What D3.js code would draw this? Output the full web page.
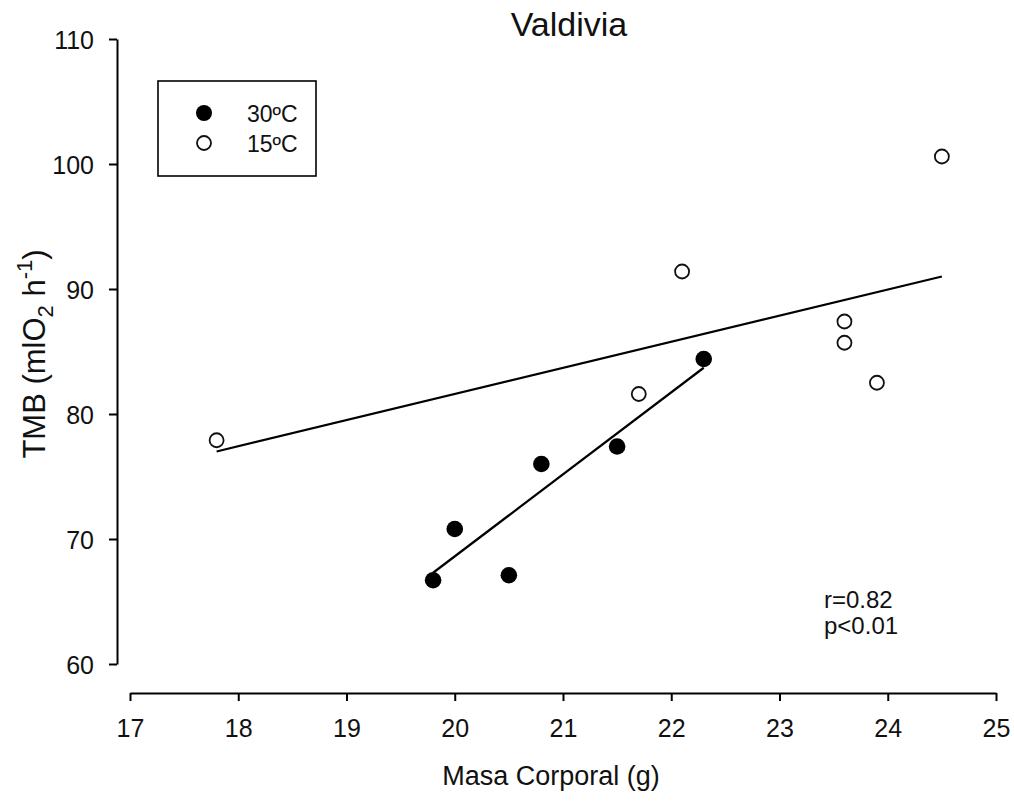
<!DOCTYPE html>
<html>
<head>
<meta charset="utf-8">
<script src="https://cdn.jsdelivr.net/npm/d3@7"></script>
<style>
  html, body { margin: 0; padding: 0; background: #fff; }
  svg { display: block; font-family: Arial, "Liberation Sans", sans-serif; }
</style>
</head>
<body>
<svg id="chart" width="1014" height="801"></svg>
<script>
// Body mass (g) and basal metabolic rate (ml O2 h-1), Valdivia
const mass30 = [19.8, 20.0, 20.5, 20.8, 21.5, 22.3];
const tmb30  = [66.7, 70.8, 67.1, 76.0, 77.4, 84.4];

const mass15 = [17.8, 21.7, 22.1, 23.6, 23.6, 23.9, 24.5];
const tmb15  = [77.9, 81.6, 91.4, 87.4, 85.7, 82.5, 100.6];

// Fitted regression lines (end points)
const fit30Mass = [19.8, 22.3];
const fit30Tmb  = [67.3, 83.7];
const fit15Mass = [17.8, 24.5];
const fit15Tmb  = [77.0, 91.0];

const xTicks = [17, 18, 19, 20, 21, 22, 23, 24, 25];
const yTicks = [60, 70, 80, 90, 100, 110];

const seriesLabels = ["30ºC", "15ºC"];
const statsText = ["r=0.82", "p<0.01"];

const FONT = "Arial, 'Liberation Sans', sans-serif";
const svg = d3.select("#chart");

const x = d3.scaleLinear().domain([17, 25]).range([130, 996]);
const y = d3.scaleLinear().domain([60, 110]).range([664, 39]);

const axisStroke = 2;

// X axis (offset below the plotting area)
const gx = svg.append("g")
  .attr("transform", "translate(0,693)")
  .call(d3.axisBottom(x).tickValues(xTicks).tickSize(8).tickSizeOuter(0).tickFormat(d3.format("d")));
gx.attr("font-family", FONT);
gx.select(".domain").attr("stroke", "#000").attr("stroke-width", axisStroke);
gx.selectAll(".tick line").attr("stroke", "#000").attr("stroke-width", axisStroke);
gx.selectAll(".tick text").attr("font-size", 25).attr("fill", "#111").attr("dy", 0).attr("y", 44);

// Y axis (offset left of the plotting area)
const gy = svg.append("g")
  .attr("transform", "translate(117,0)")
  .call(d3.axisLeft(y).tickValues(yTicks).tickSize(8).tickSizeOuter(0).tickFormat(d3.format("d")));
gy.attr("font-family", FONT);
gy.select(".domain").attr("stroke", "#000").attr("stroke-width", axisStroke);
gy.selectAll(".tick line").attr("stroke", "#000").attr("stroke-width", axisStroke);
gy.selectAll(".tick text").attr("font-size", 25).attr("fill", "#111").attr("x", -23).attr("dy", "0.36em");

// Titles
svg.append("text")
  .attr("x", 569).attr("y", 36)
  .attr("text-anchor", "middle")
  .attr("font-size", 34).attr("fill", "#111")
  .text("Valdivia");

svg.append("text")
  .attr("x", 551).attr("y", 785)
  .attr("text-anchor", "middle")
  .attr("font-size", 27).attr("fill", "#111")
  .text("Masa Corporal (g)");

const yTitle = svg.append("text")
  .attr("transform", "translate(45,354) rotate(-90)")
  .attr("text-anchor", "middle")
  .attr("font-size", 31).attr("fill", "#111");
yTitle.append("tspan").text("TMB (mlO");
yTitle.append("tspan").attr("font-size", 22).attr("dy", 8).text("2");
yTitle.append("tspan").attr("dy", -8).text(" h");
yTitle.append("tspan").attr("font-size", 22).attr("dy", -13).text("-1");
yTitle.append("tspan").attr("dy", 13).text(")");

// Regression lines
const line = d3.line().x(d => x(d[0])).y(d => y(d[1]));
svg.append("path")
  .datum(d3.zip(fit15Mass, fit15Tmb))
  .attr("d", line).attr("fill", "none").attr("stroke", "#000").attr("stroke-width", 2.2);
svg.append("path")
  .datum(d3.zip(fit30Mass, fit30Tmb))
  .attr("d", line).attr("fill", "none").attr("stroke", "#000").attr("stroke-width", 2.2);

// 15 ºC points: open circles
svg.append("g").selectAll("circle")
  .data(d3.zip(mass15, tmb15))
  .join("circle")
  .attr("cx", d => x(d[0])).attr("cy", d => y(d[1]))
  .attr("r", 7)
  .attr("fill", "#fff").attr("stroke", "#111").attr("stroke-width", 1.8);

// 30 ºC points: filled circles
svg.append("g").selectAll("circle")
  .data(d3.zip(mass30, tmb30))
  .join("circle")
  .attr("cx", d => x(d[0])).attr("cy", d => y(d[1]))
  .attr("r", 8.3)
  .attr("fill", "#000");

// Legend
const legend = svg.append("g");
legend.append("rect")
  .attr("x", 158).attr("y", 81).attr("width", 158).attr("height", 95)
  .attr("fill", "#fff").attr("stroke", "#000").attr("stroke-width", 1.6);
legend.append("circle").attr("cx", 204).attr("cy", 113).attr("r", 8).attr("fill", "#000");
legend.append("circle").attr("cx", 204).attr("cy", 143).attr("r", 7)
  .attr("fill", "#fff").attr("stroke", "#111").attr("stroke-width", 1.8);
legend.selectAll("text.lab")
  .data(seriesLabels)
  .join("text")
  .attr("class", "lab")
  .attr("x", 247).attr("y", (d, i) => 122 + i * 30)
  .attr("font-size", 23).attr("fill", "#111")
  .text(d => d);

// Correlation statistics
svg.selectAll("text.stat")
  .data(statsText)
  .join("text")
  .attr("class", "stat")
  .attr("x", 824).attr("y", (d, i) => 608 + i * 26)
  .attr("font-size", 24).attr("fill", "#111")
  .text(d => d);
</script>
</body>
</html>
